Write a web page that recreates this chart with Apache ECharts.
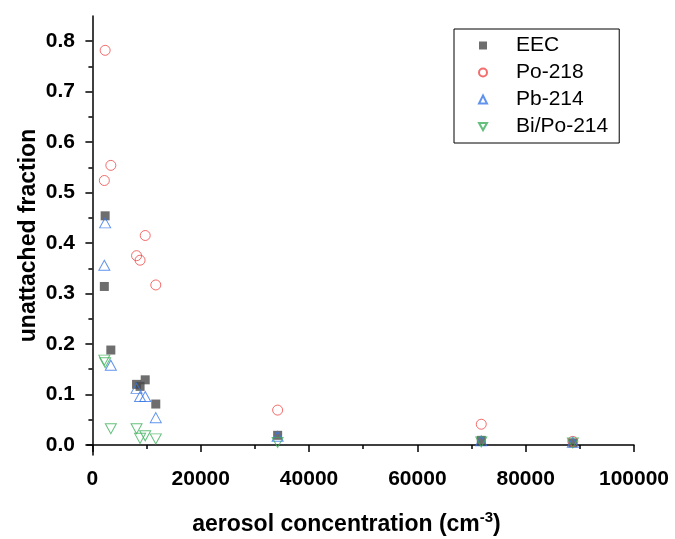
<!DOCTYPE html>
<html>
<head>
<meta charset="utf-8">
<script src="https://cdn.jsdelivr.net/npm/echarts@6/dist/echarts.min.js"></script>
<style>
html,body{margin:0;padding:0;background:#fff}
#chart{width:675px;height:539px}
</style>
</head>
<body>
<div id="chart"></div>
<script>
// aerosol concentration of each sample (cm^-3)
var aerosol = [2200, 2350, 3400, 8150, 8800, 9750, 11700, 34200, 71800, 88700];
// unattached fractions per sample
var eec   = [0.314, 0.454, 0.188, 0.120, 0.116, 0.129, 0.081, 0.019, 0.009, 0.004];
var po218 = [0.524, 0.782, 0.554, 0.375, 0.366, 0.415, 0.317, 0.069, 0.041, 0.007];
var pb214 = [0.356, 0.440, 0.158, 0.112, 0.096, 0.096, 0.054, 0.017, 0.008, 0.005];
var bipo  = [0.168, 0.163, 0.032, 0.032, 0.013, 0.018, 0.012, 0.005, 0.006, 0.004];

var xTicks = [0, 20000, 40000, 60000, 80000, 100000];
var xMinor = [10000, 30000, 50000, 70000, 90000];
var yTicks = [0, 0.1, 0.2, 0.3, 0.4, 0.5, 0.6, 0.7, 0.8];
var yMinor = [0.05, 0.15, 0.25, 0.35, 0.45, 0.55, 0.65, 0.75];

function pairs(ys){
  return aerosol.map(function(x,i){ return [x, ys[i]]; });
}

var font = 'Liberation Sans, Arial, sans-serif';
var downTri = 'path://M0,0L20,0L10,18Z';

var myChart = echarts.init(document.getElementById('chart'));
var option = {
  animation:false,
  grid:{left:87, right:41, top:16, bottom:84, outerBoundsMode:'none'},
  legend:{
    orient:'vertical',
    left:454, top:29,
    padding:[6,11,6,24],
    itemGap:6,
    itemWidth:8, itemHeight:8,
    borderColor:'#000', borderWidth:1,
    textStyle:{fontFamily:font, fontSize:21, color:'#000', lineHeight:21, padding:[0,0,0,24]},
    data:['EEC','Po-218','Pb-214','Bi/Po-214']
  },
  xAxis:[{
    type:'value', min:-1000, max:100000,
    name:'aerosol concentration (cm{sup|-3}{t|)}',
    nameLocation:'middle', nameGap:55, nameMoveOverlap:false,
    nameTextStyle:{fontFamily:font, fontSize:23, fontWeight:'bold', color:'#000', lineHeight:30, padding:[0,28,0,0],
      rich:{
        sup:{fontFamily:font, fontSize:15, fontWeight:'bold', color:'#000', lineHeight:15, verticalAlign:'top'},
        t:{fontFamily:font, fontSize:23, fontWeight:'bold', color:'#000', lineHeight:30}
      }},
    axisLine:{lineStyle:{color:'#000', width:1.5}},
    axisTick:{inside:false, length:7, lineStyle:{color:'#000', width:1.5}, customValues:xTicks},
    axisLabel:{customValues:xTicks, margin:14, fontFamily:font, fontSize:21, fontWeight:'bold', color:'#000',
      formatter:function(v){ return String(v); }},
    splitLine:{show:false}
  },{
    type:'value', min:-1000, max:100000, position:'bottom',
    axisLine:{show:false},
    axisTick:{length:4, lineStyle:{color:'#000', width:1.5}, customValues:xMinor},
    axisLabel:{show:false},
    splitLine:{show:false}
  }],
  yAxis:[{
    type:'value', min:-0.02, max:0.85,
    name:'unattached fraction',
    nameLocation:'middle', nameGap:47, nameMoveOverlap:false,
    nameTextStyle:{fontFamily:font, fontSize:23, fontWeight:'bold', color:'#000'},
    axisLine:{lineStyle:{color:'#000', width:1.5}},
    axisTick:{length:7, lineStyle:{color:'#000', width:1.5}, customValues:yTicks},
    axisLabel:{customValues:yTicks, margin:12, fontFamily:font, fontSize:21, fontWeight:'bold', color:'#000',
      formatter:function(v){ return v.toFixed(1); }},
    splitLine:{show:false}
  },{
    type:'value', min:-0.02, max:0.85, position:'left',
    axisLine:{show:false},
    axisTick:{length:4, lineStyle:{color:'#000', width:1.5}, customValues:yMinor},
    axisLabel:{show:false},
    splitLine:{show:false}
  }],
  series:[{
    name:'EEC', type:'scatter', symbol:'rect', symbolSize:9,
    itemStyle:{color:'#4a4a4a'},
    emphasis:{disabled:true},
    data:pairs(eec)
  },{
    name:'Po-218', type:'scatter', symbol:'circle', symbolSize:10,
    itemStyle:{color:'rgba(0,0,0,0)', borderColor:'#f04848', borderWidth:1},
    emphasis:{disabled:true},
    data:pairs(po218)
  },{
    name:'Pb-214', type:'scatter', symbol:'triangle', symbolSize:[11,10],
    itemStyle:{color:'rgba(0,0,0,0)', borderColor:'#3a78e8', borderWidth:1},
    emphasis:{disabled:true},
    data:pairs(pb214)
  },{
    name:'Bi/Po-214', type:'scatter', symbol:downTri, symbolSize:[11,10],
    itemStyle:{color:'rgba(0,0,0,0)', borderColor:'#3fb05c', borderWidth:1},
    emphasis:{disabled:true},
    data:pairs(bipo)
  }]
};
myChart.setOption(option);
</script>
</body>
</html>
